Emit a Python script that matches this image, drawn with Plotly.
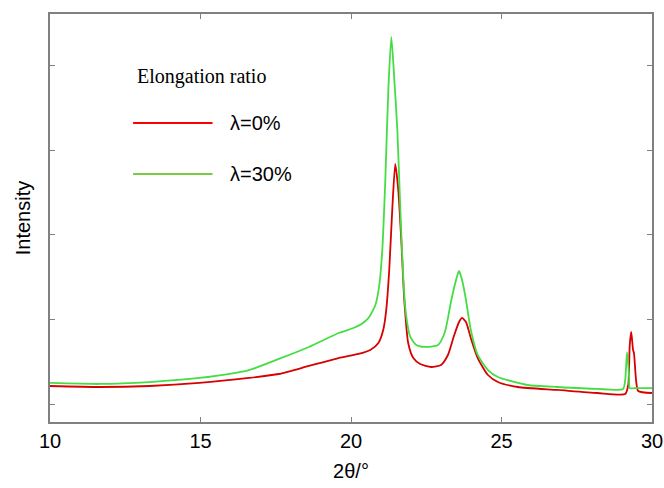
import plotly.graph_objects as go

# 2theta (deg) and intensity (a.u.)
two_theta_0 = [10.00, 11.65, 13.31, 14.96, 16.61, 17.60, 18.60, 19.59, 20.25, 20.64,
               20.91, 21.07, 21.17, 21.27, 21.37, 21.47, 21.57, 21.67, 21.77, 21.90,
               22.07, 22.30, 22.66, 22.99, 23.22, 23.42, 23.59, 23.69, 23.82, 23.98,
               24.21, 24.55, 24.88, 25.54, 26.86, 28.18, 29.11, 29.21, 29.26, 29.31,
               29.37, 29.40, 29.47, 29.54, 30.00]
intensity_0 = [1213, 1201, 1213, 1249, 1308, 1355, 1450, 1544, 1592, 1639,
               1722, 1876, 2112, 2586, 3296, 3840, 3532, 2941, 2231, 1722,
               1544, 1473, 1438, 1462, 1580, 1805, 1970, 2018, 1970, 1781,
               1544, 1343, 1260, 1201, 1166, 1130, 1118, 1225, 1698, 1852,
               1640, 1604, 1284, 1154, 1130]

two_theta_30 = [10.00, 11.65, 13.31, 14.96, 16.61, 17.60, 18.60, 19.59, 20.08, 20.35,
                20.58, 20.81, 20.94, 21.04, 21.14, 21.24, 21.34, 21.44, 21.54, 21.64,
                21.74, 21.83, 21.97, 22.17, 22.46, 22.89, 23.12, 23.32, 23.49, 23.59,
                23.69, 23.82, 23.98, 24.21, 24.55, 24.88, 25.87, 26.86, 28.18, 29.04,
                29.11, 29.17, 29.24, 29.26, 29.50, 30.00]
intensity_30 = [1249, 1237, 1260, 1308, 1402, 1533, 1675, 1840, 1899, 1947,
                2018, 2172, 2408, 2822, 3651, 4716, 5343, 4834, 4242, 3296,
                2467, 2053, 1793, 1698, 1675, 1698, 1852, 2207, 2467, 2574,
                2467, 2231, 1876, 1580, 1402, 1320, 1225, 1201, 1178, 1178,
                1284, 1615, 1320, 1189, 1189, 1189]

series_names = ["λ=0%", "λ=30%"]
curve_colors = ["#d80000", "#44dd44"]
legend_colors = ["#ff0000", "#77cc44"]
legend_title = "Elongation ratio"

fig = go.Figure()
for xs, ys, name, col in [(two_theta_0, intensity_0, series_names[0], curve_colors[0]),
                          (two_theta_30, intensity_30, series_names[1], curve_colors[1])]:
    fig.add_trace(go.Scatter(x=xs, y=ys, mode="lines", name=name,
                             line=dict(color=col, width=1.8, shape="spline", smoothing=0.6),
                             showlegend=False))

# manual legend (layout decoration)
leg_y = [0.733, 0.608]
for i in range(2):
    fig.add_shape(type="line", xref="paper", yref="paper",
                  x0=0.138, x1=0.270, y0=leg_y[i], y1=leg_y[i],
                  line=dict(color=legend_colors[i], width=2))
    fig.add_annotation(xref="paper", yref="paper", x=0.296, y=leg_y[i],
                       text=series_names[i], showarrow=False, xanchor="left", yanchor="middle",
                       font=dict(family="Arial, Liberation Sans", size=20, color="black"))
fig.add_annotation(xref="paper", yref="paper", x=0.1415, y=0.8456, text=legend_title,
                   showarrow=False, xanchor="left", yanchor="middle",
                   font=dict(family="Liberation Serif, Times New Roman", size=20, color="black"))

axis_common = dict(showline=True, linecolor="#808080", linewidth=1.5, mirror="ticks",
                   ticks="inside", ticklen=5, tickcolor="#808080", tickwidth=1,
                   showgrid=False, zeroline=False, automargin=False)

fig.update_xaxes(range=[10, 30], tick0=10, dtick=5, title_text="2θ/°",
                 tickfont=dict(size=20), title_font=dict(size=20), title_standoff=13,
                 ticklabeloverflow="allow", **axis_common)
fig.update_yaxes(range=[787, 5615], tick0=1000, dtick=1000, showticklabels=False,
                 title_text="Intensity", title_font=dict(size=20), title_standoff=12,
                 **axis_common)

fig.update_layout(width=664, height=488, margin=dict(l=50, r=12, t=14, b=66),
                  paper_bgcolor="white", plot_bgcolor="white",
                  font=dict(family="Arial, Liberation Sans", color="black"))

fig.write_html("out.html")
